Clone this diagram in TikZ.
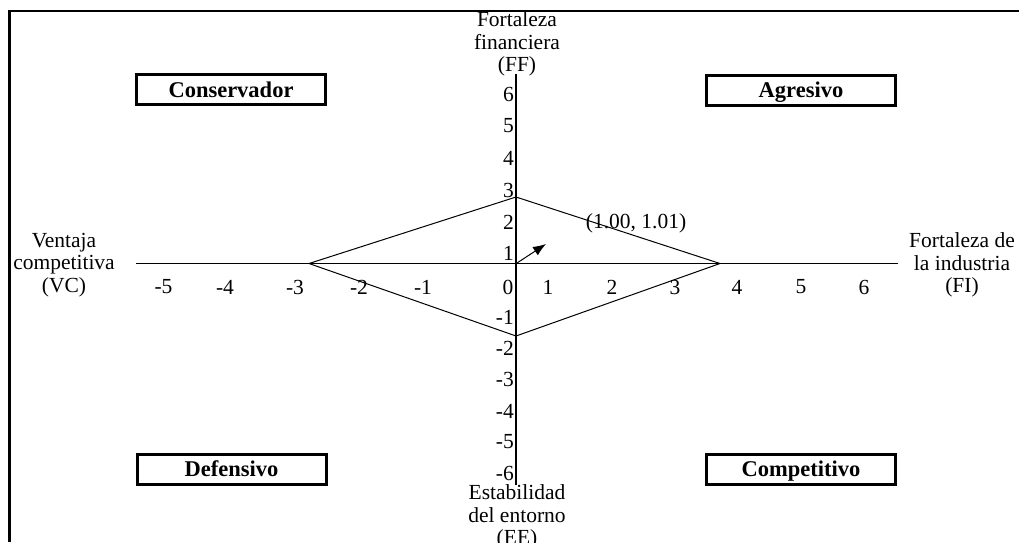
\documentclass[tikz,border=0pt]{standalone}
\usepackage{fontspec}
\setmainfont{Liberation Serif}
\usetikzlibrary{arrows.meta}
\begin{document}
\begin{tikzpicture}[x=1pt,y=-1pt,
  lbl/.style={font=\fontsize{21.5}{22.5}\selectfont, inner sep=0pt, align=center},
  tick/.style={font=\fontsize{21.5}{22}\selectfont, inner sep=0pt},
  quad/.style={draw, line width=3pt, minimum width=189pt, minimum height=30pt, text height=15pt, text depth=0pt, font=\fontsize{22.5}{23}\selectfont\bfseries, inner sep=0pt},
  vaxis/.style={line width=2.2pt},
  haxis/.style={line width=1.6pt},
  dia/.style={line width=1pt},
  frame/.style={line width=2.5pt}
]
\useasboundingbox (0,0) rectangle (1019,542);
\fill[white] (0,0) rectangle (1019,542);
% frame
\coordinate (fTR) at (1019,11);
\coordinate (fTL) at (9.5,11);
\coordinate (fBL) at (9.5,542);
\draw[frame] (fTR) -- (fTL) -- (fBL);
% axes
\coordinate (vTop) at (516,74);
\coordinate (vBot) at (516,485);
\coordinate (hL) at (136,263.5);
\coordinate (hR) at (898,263.5);
\draw[haxis] (hL) -- (hR);
\draw[vaxis] (vTop) -- (vBot);
% diamond
\coordinate (dL) at (309,263.5);
\coordinate (dT) at (516,197);
\coordinate (dR) at (720,263.5);
\coordinate (dB) at (516,336);
\draw[dia] (dL) -- (dT) -- (dR) -- (dB) -- cycle;
% arrow
\coordinate (org) at (517,263);
\coordinate (tip) at (546,244);
\draw[dia,-{Latex[length=13pt,width=10pt]}] (org) -- (tip);
\node[tick] (pt) at (636,223) {(1.00, 1.01)};
% axis titles
\node[lbl] (ff) at (517,44) {Fortaleza\\financiera\\(FF)};
\node[lbl] (ee) at (517,517) {Estabilidad\\del entorno\\(EE)};
\node[lbl] (vc) at (64,265) {Ventaja\\competitiva\\(VC)};
\node[lbl] (fi) at (962,265) {Fortaleza de\\la industria\\(FI)};
% quadrant boxes
\node[quad] (cons) at (231,89.5) {Conservador};
\node[quad] (agr) at (801,90) {Agresivo};
\node[quad] (def) at (231.5,469) {Defensivo};
\node[quad] (comp) at (801,469) {Competitivo};
% x tick labels
\foreach \v/\x [count=\i] in {-5/163.5,-4/225,-3/295,-2/359,-1/423,0/508,1/548,2/612,3/675,4/737,5/801,6/864}
  \node[tick] (xt\i) at (\x,287) {\v};
% y tick labels
\foreach \v/\y [count=\i] in {6/94,5/126,4/158,3/190,2/222,1/253,-1/317,-2/348,-3/379,-4/411,-5/442,-6/473}
  \node[tick,anchor=east] (yt\i) at (514,\y) {\v};
\end{tikzpicture}
\end{document}
